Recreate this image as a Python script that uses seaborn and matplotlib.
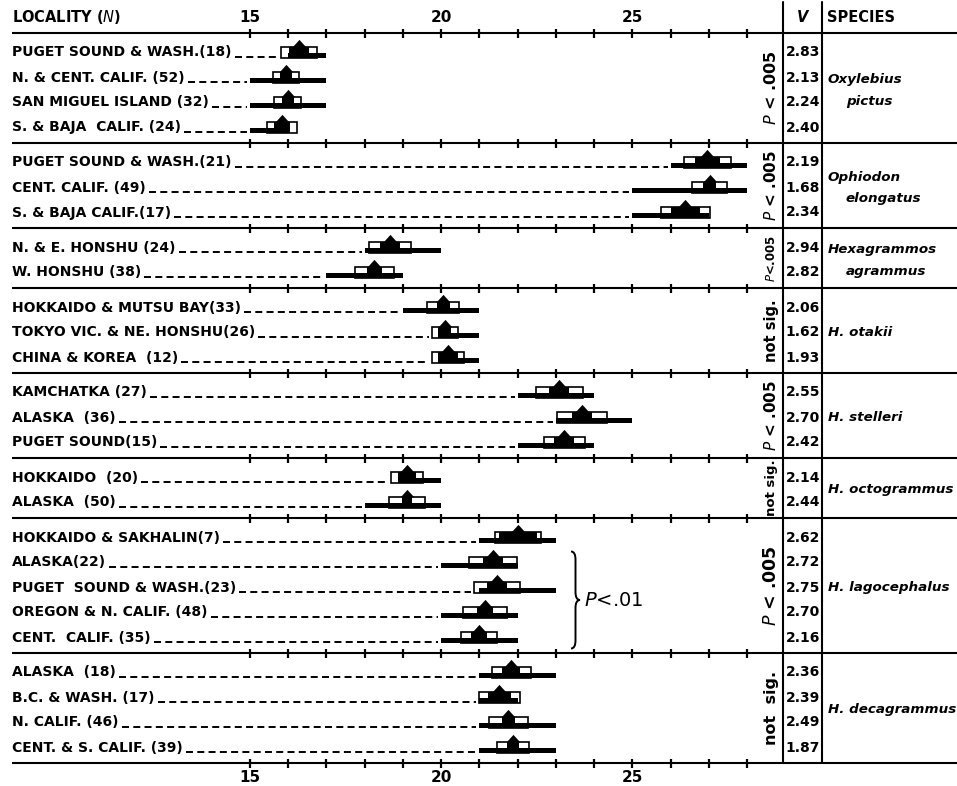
import numpy as np
import pandas as pd
import matplotlib
matplotlib.use("Agg")
import matplotlib.pyplot as plt
import seaborn as sns
from matplotlib.patches import Rectangle, PathPatch
from matplotlib.path import Path

# ---------------- data ----------------
species_line1 = ["Oxylebius", "Ophiodon", "Hexagrammos", "H. otakii", "H. stelleri",
                 "H. octogrammus", "H. lagocephalus", "H. decagrammus"]
species_line2 = ["pictus", "elongatus", "agrammus", "", "", "", "", ""]
group_sizes = [4, 3, 2, 3, 3, 2, 5, 4]
p_labels = ["P<.005", "P<.005", "P<.005", "not sig.", "P<.005", "not sig.", "P<.005", "not sig."]

localities = [
    "PUGET SOUND & WASH.(18)", "N. & CENT. CALIF. (52)", "SAN MIGUEL ISLAND (32)", "S. & BAJA  CALIF. (24)",
    "PUGET SOUND & WASH.(21)", "CENT. CALIF. (49)", "S. & BAJA CALIF.(17)",
    "N. & E. HONSHU (24)", "W. HONSHU (38)",
    "HOKKAIDO & MUTSU BAY(33)", "TOKYO VIC. & NE. HONSHU(26)", "CHINA & KOREA  (12)",
    "KAMCHATKA (27)", "ALASKA  (36)", "PUGET SOUND(15)",
    "HOKKAIDO  (20)", "ALASKA  (50)",
    "HOKKAIDO & SAKHALIN(7)", "ALASKA(22)", "PUGET  SOUND & WASH.(23)", "OREGON & N. CALIF. (48)", "CENT.  CALIF. (35)",
    "ALASKA  (18)", "B.C. & WASH. (17)", "N. CALIF. (46)", "CENT. & S. CALIF. (39)",
]
range_min = [16, 15, 15, 15,  26, 25, 25,  18, 17,  19, 20, 20,  22, 23, 22,  19, 18,
             21, 20, 21, 20, 20,  21, 21, 21, 21]
range_max = [17, 17, 17, 16,  28, 28, 27,  20, 19,  21, 21, 21,  24, 25, 24,  20, 20,
             23, 22, 23, 22, 22,  23, 22, 23, 23]
means = [16.28, 15.94, 15.99, 15.84,  26.96, 27.02, 26.39,  18.66, 18.25,  20.05, 20.10, 20.18,
         23.09, 23.69, 23.22,  19.11, 19.11,  22.02, 21.36, 21.46, 21.15, 20.99,
         21.83, 21.52, 21.76, 21.88]
sd = [0.46, 0.33, 0.35, 0.39,  0.62, 0.46, 0.64,  0.56, 0.51,  0.42, 0.33, 0.41,
      0.61, 0.65, 0.54,  0.42, 0.47,  0.60, 0.62, 0.60, 0.58, 0.47,
      0.51, 0.54, 0.52, 0.41]
two_se = [0.26, 0.16, 0.16, 0.20,  0.33, 0.18, 0.37,  0.26, 0.20,  0.17, 0.17, 0.25,
          0.26, 0.26, 0.26,  0.24, 0.14,  0.50, 0.26, 0.27, 0.20, 0.20,
          0.24, 0.30, 0.18, 0.16]
v_values = [2.83, 2.13, 2.24, 2.40,  2.19, 1.68, 2.34,  2.94, 2.82,  2.06, 1.62, 1.93,
            2.55, 2.70, 2.42,  2.14, 2.44,  2.62, 2.72, 2.75, 2.70, 2.16,
            2.36, 2.39, 2.49, 1.87]
tick_values = list(range(15, 29))
tick_labels = ["15", "20", "25"]
bracket_rows = [18, 21]          # rows 2..5 of H. lagocephalus
bracket_label = "P<.01"

# ---------------- layout / style ----------------
sns.set_theme(style="white")
plt.rcParams['font.family'] = ['DejaVu Sans']
plt.rcParams['text.color'] = 'black'
plt.rcParams['mathtext.default'] = 'it'

W, H = 957, 786
PX = 38.23      # pixels per unit
X15 = 250       # pixel position of 15

def vx(px):
    return 15 + (px - X15) / PX

fig = plt.figure(figsize=(W / 100, H / 100), dpi=100)
ax = fig.add_axes([0, 0, 1, 1])

ROW_H, PAD, TOP = 25, 10, 33
tops = [TOP]
for n in group_sizes:
    tops.append(tops[-1] + n * ROW_H + PAD)
row_y = []
for g, n in enumerate(group_sizes):
    for i in range(n):
        row_y.append(tops[g] + 18.5 + ROW_H * i)

# triangles (means) via seaborn
tri_df = pd.DataFrame({"mean": means, "y": [y - 8.5 for y in row_y]})
tri_marker = [(-1, -0.55), (1, -0.55), (0, 0.55), (-1, -0.55)]
sns.scatterplot(data=tri_df, x="mean", y="y", marker=tri_marker, s=90, color='black',
                linewidth=0, ax=ax, zorder=5, legend=False)
ax.set_xlim(vx(0), vx(W))
ax.set_ylim(H, 0)
ax.axis('off')

LW_LINE = 1.5
# separator lines with ticks
for yl in tops:
    ax.plot([vx(12), vx(W)], [yl, yl], color='black', lw=LW_LINE, solid_capstyle='butt', zorder=1)
    ax.vlines(tick_values, yl - 4.5, yl + 4.5, color='black', lw=1.6, zorder=1)
# vertical column lines
for xl in (783, 822):
    ax.plot([vx(xl), vx(xl)], [2, tops[-1]], color='black', lw=LW_LINE, zorder=1)

# header texts
hdr_kw = dict(fontsize=10.5, fontweight='bold', va='center', color='black')
ax.text(vx(12), 17, r"LOCALITY ($N$)", ha='left', **hdr_kw)
ax.text(vx(803), 17, "V", ha='center', fontstyle='italic', **hdr_kw)
ax.text(vx(827), 17, "SPECIES", ha='left', **hdr_kw)
for lab in tick_labels:
    ax.text(float(lab), 17, lab, ha='center', va='center', fontsize=11, fontweight='bold', color='black')
    ax.text(float(lab), 770, lab, ha='center', va='top', fontsize=11, fontweight='bold', color='black')

# glyphs
BOX_TOP, BOX_H = -5, 11.5
RNG_TOP, RNG_H = 1, 5.5
for i, yc in enumerate(row_y):
    m, s, e = means[i], sd[i], two_se[i]
    ax.add_patch(Rectangle((m - s, yc + BOX_TOP), 2 * s, BOX_H, fc='white', ec='black', lw=1.2, zorder=2))
    ax.add_patch(Rectangle((range_min[i], yc + RNG_TOP), range_max[i] - range_min[i], RNG_H,
                           fc='black', ec='none', zorder=3))
    ax.add_patch(Rectangle((m - e, yc + BOX_TOP), 2 * e, BOX_H, fc='black', ec='none', zorder=4))

# locality labels
label_texts = []
for i, yc in enumerate(row_y):
    t = ax.text(vx(12), yc + 5, localities[i], ha='left', va='baseline', fontsize=10,
                fontweight='bold', color='black')
    label_texts.append(t)

# V values
for i, yc in enumerate(row_y):
    ax.text(vx(803), yc + 1, f"{v_values[i]:.2f}", ha='center', va='center', fontsize=10,
            fontweight='bold', color='black')

# significance text (rotated) and species names
p_sizes = [11.5, 11, 8.5, 10.5, 11, 9.5, 12.5, 11.5]
for g, lab in enumerate(p_labels):
    yc = (tops[g] + tops[g + 1]) / 2
    if lab.startswith("P<"):
        txt = r"$P$ < " + lab[2:] if p_sizes[g] > 10 else r"$P$<" + lab[2:]
    else:
        txt = lab.replace(" ", "  ") if g == 7 else lab
    ax.text(vx(771), yc, txt, rotation=90, ha='center', va='center', fontsize=p_sizes[g],
            fontweight='bold', color='black')
    sp_kw = dict(ha='left', va='center', fontsize=9.7, fontweight='bold', fontstyle='italic', color='black')
    if species_line2[g]:
        ax.text(vx(828), yc - 8, species_line1[g], **sp_kw)
        ax.text(vx(846), yc + 13, species_line2[g], **sp_kw)
    else:
        ax.text(vx(828), yc + 2, species_line1[g], **sp_kw)

# bracket with P<.01
yb0 = row_y[bracket_rows[0]] - 10
yb1 = row_y[bracket_rows[1]] + 12
ym = (yb0 + yb1) / 2
x0 = vx(571)
w = 9 / PX
d = 8
verts = [(x0, yb0), (x0 + w / 2, yb0), (x0 + w / 2, yb0 + d),
         (x0 + w / 2, ym - d),
         (x0 + w / 2, ym), (x0 + w, ym),
         (x0 + w / 2, ym), (x0 + w / 2, ym + d),
         (x0 + w / 2, yb1 - d),
         (x0 + w / 2, yb1), (x0, yb1)]
codes = [Path.MOVETO, Path.CURVE3, Path.CURVE3, Path.LINETO, Path.CURVE3, Path.CURVE3,
         Path.CURVE3, Path.CURVE3, Path.LINETO, Path.CURVE3, Path.CURVE3]
ax.add_patch(PathPatch(Path(verts, codes), fc='none', ec='black', lw=1.4, zorder=3))
ax.text(vx(584), ym + 1, r"$P$" + "<" + bracket_label[2:], ha='left', va='center', fontsize=14,
        color='black')

# dashed leaders from labels to glyphs
fig.canvas.draw()
renderer = fig.canvas.get_renderer()
inv = ax.transData.inverted()
gap = 3 / PX
for i, t in enumerate(label_texts):
    bb = t.get_window_extent(renderer)
    x_end = inv.transform((bb.x1, bb.y0))[0]
    start = min(range_min[i], means[i] - sd[i])
    if start - gap > x_end + gap:
        ax.plot([x_end + gap, start - gap], [row_y[i] + 5.5] * 2, color='black', lw=1.4,
                dashes=(3.6, 2.2), dash_capstyle='butt', zorder=1)

fig.savefig("out.png", dpi=100)
